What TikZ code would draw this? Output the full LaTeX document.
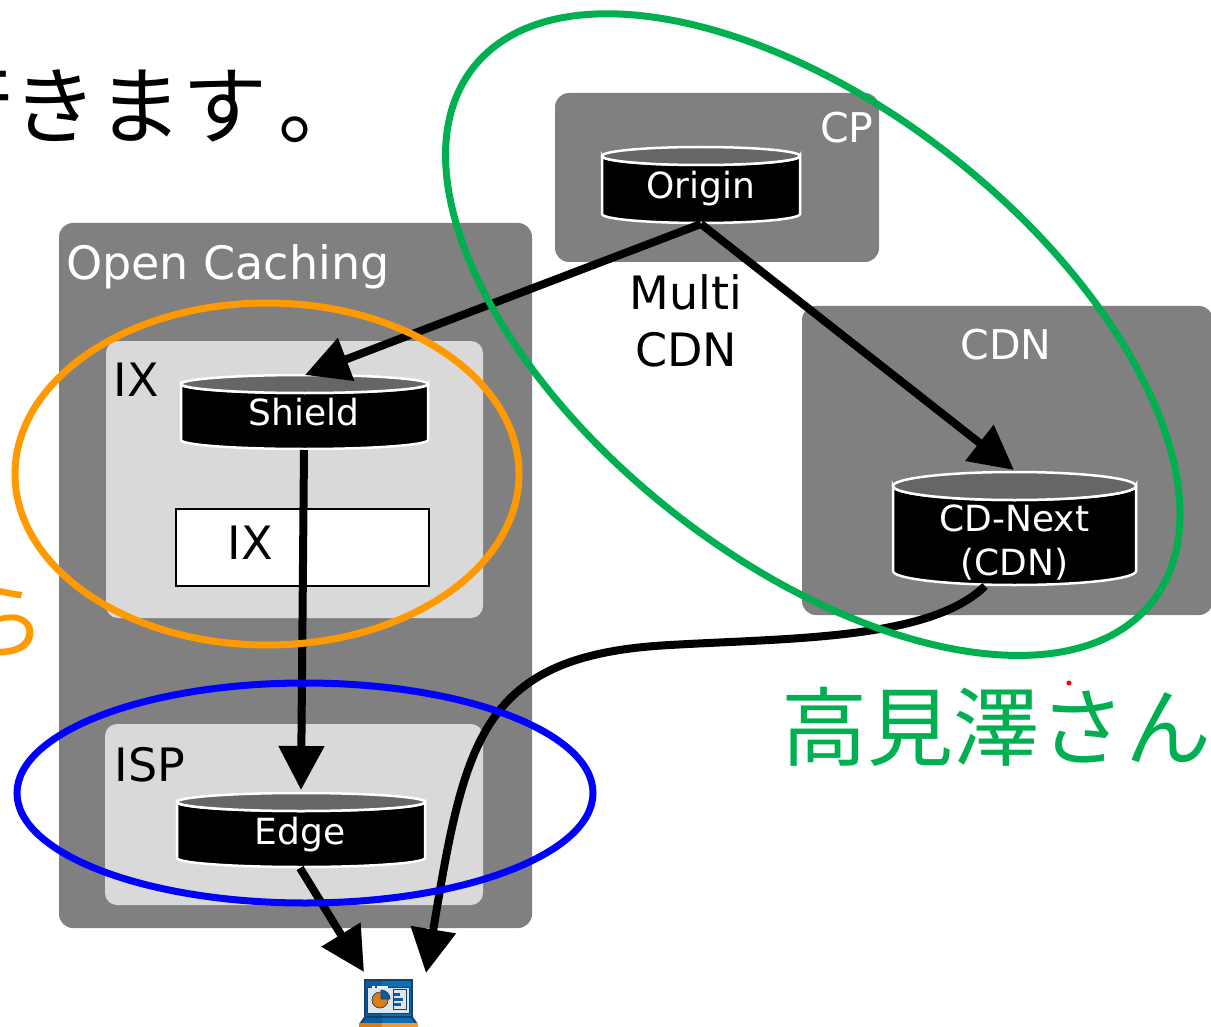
\documentclass[tikz,border=0pt]{standalone}
\usepackage{fontspec}
\setmainfont{DejaVu Sans}
\newfontfamily\cjkfont{Noto Sans CJK JP}
\usetikzlibrary{arrows.meta}
\definecolor{boxgray}{HTML}{808080}
\definecolor{boxlight}{HTML}{D9D9D9}
\definecolor{ringorange}{HTML}{FF9900}
\definecolor{ringgreen}{HTML}{00B050}
\definecolor{lidgray}{HTML}{666666}
\definecolor{frame}{HTML}{1C3F66}
\definecolor{screenblue}{HTML}{0A6FB5}
\definecolor{paneblue}{HTML}{0B5CA0}
\definecolor{panel}{HTML}{DDE6EE}
\definecolor{pieorange}{HTML}{E07B10}
\definecolor{baseorange}{HTML}{F39A32}
\tikzset{
  x=1pt,y=-1pt,
  graybox/.style={fill=boxgray,rounded corners=14pt},
  lightbox/.style={fill=boxlight,rounded corners=12pt},
  storetext/.style={text=white,inner sep=0pt,font=\fontsize{36}{44}\selectfont,align=center},
  flow/.style={line width=8pt,draw=black,-{Triangle[length=44pt,width=44pt]}},
  ring/.style={line width=7pt,fill=none},
  lbl/.style={inner sep=0pt,font=\fontsize{46}{57}\selectfont,align=center},
  wlbl/.style={inner sep=0pt,text=white,font=\fontsize{41}{50}\selectfont},
  jp/.style={inner sep=0pt,font=\cjkfont\fontsize{85}{85}\selectfont}
}
% name, left, top, right, bottom, lid half-height
\newcommand{\storeshape}[6]{%
  \draw[white,line width=2.5pt,fill=black] (#2,#3+#6) arc[start angle=180,end angle=0,x radius={(#4-#2)/2},y radius=#6]
    -- (#4,#5-#6) arc[start angle=0,end angle=180,x radius={(#4-#2)/2},y radius=#6] -- cycle;
  \draw[white,line width=2.5pt,fill=lidgray] ({(#2+#4)/2},#3+#6) ellipse [x radius={(#4-#2)/2},y radius=#6];
  \coordinate (#1) at ({(#2+#4)/2},{(#3+#5)/2});
}
\begin{document}
\begin{tikzpicture}
\useasboundingbox (0,0) rectangle (1211,1027);
\clip (0,0) rectangle (1211,1027);
% clipped slide text
\node[jp,anchor=east] (head) at (364,105) {行きます\kern11pt 。};
\node[jp,anchor=east,text=ringorange] (ora) at (47,622) {ら};
% panels
\fill[graybox] (59,223) rectangle (532,928);
\fill[lightbox] (106,341) rectangle (483,618);
\fill[lightbox] (105,724) rectangle (483,905);
\fill[graybox] (555,93) rectangle (879,262);
\fill[graybox] (802,306) rectangle (1213,615);
\node[lbl,anchor=west,text=white] (oc) at (66,267) {Open Caching};
\node[lbl] (ixl) at (136,380) {IX};
\node[lbl] (ispl) at (150,765) {ISP};
\node[wlbl] (cpl) at (847,128) {CP};
\node[wlbl] (cdnl) at (1006,345) {CDN};
\node[lbl] (multi) at (686,321) {Multi\\CDN};
\node[draw=black,fill=white,line width=2pt,minimum width=253pt,minimum height=77pt,inner sep=0pt] (ixbox) at (302.5,547.5) {};
\node[lbl] (ixt) at (250,543) {IX};
% stores
\storeshape{origin}{602}{147}{800}{223}{9}
\storeshape{shield}{181}{375}{428}{449}{9}
\storeshape{edge}{177}{793}{425}{867}{9}
\storeshape{cdnext}{893}{472}{1136}{585}{14}
\node[storetext] (origint) at (701,189) {Origin};
\node[storetext] (shieldt) at (304,412) {Shield};
\node[storetext] (edget) at (300,835) {Edge};
\node[storetext] (cdnextt) at (1014.5,543) {CD-Next\\(CDN)};
% free ends
\coordinate (pcA) at (364,972);
\coordinate (pcB) at (426,973);
\coordinate (oBot) at (701,224);
\coordinate (sTop) at (305,375);
\coordinate (cTop) at (1014,470);
\coordinate (sBot) at (304,450);
\coordinate (eTop) at (301,790);
\coordinate (eBot) at (300,868);
\coordinate (cBot) at (985,586);
% arrows
\draw[flow] (oBot) -- (sTop);
\draw[flow] (oBot) -- (cTop);
\draw[flow] (sBot) -- (eTop);
\draw[flow] (eBot) -- (pcA);
\draw[flow] (cBot) .. controls (930,640) and (790,638) .. (670,645) .. controls (480,655) and (465,740) .. (pcB);
% rings
\draw[ring,draw=ringorange] (267,474) ellipse [x radius=252,y radius=171];
\draw[ring,draw=ringgreen,rotate around={-38.2:(812,334)}] (813,334) ellipse [x radius=432,y radius=226];
\draw[ring,draw=blue] (305,793) ellipse [x radius=288,y radius=110];
\fill[red] (1069,683) circle (2.5);
\node[inner sep=0pt,anchor=west,text=ringgreen,font=\cjkfont\fontsize{86}{86}\selectfont] (name) at (781,727) {高見澤さん};
% laptop icon
\fill[frame] (364,979) rectangle (413,1018);
\fill[screenblue] (366,981) rectangle (411,1016);
\fill[paneblue] (366,981) rectangle (382,1016);
\fill[frame] (367,987) rectangle (410,1014);
\fill[panel] (368,988) rectangle (409,1013);
\fill[pieorange,draw=frame,line width=.7pt] (380,1000) circle (8);
\fill[paneblue,draw=frame,line width=.7pt] (381,999) -- (381,990) arc[start angle=-90,end angle=0,radius=9] -- cycle;
\fill[panel,draw=frame,line width=.8pt] (393,989) rectangle (406,1009);
\fill[paneblue] (394,993) rectangle (400,996);
\fill[paneblue] (394,998) rectangle (403,1001);
\fill[paneblue] (394,1003) rectangle (401,1006);
\fill[white] (372,986) rectangle (375,987.5);
\fill[white] (377,986) rectangle (388,987.5);
\fill[frame] (364,1017) -- (413,1017) -- (418,1024) -- (359,1024) -- cycle;
\fill[screenblue] (366,1018) -- (411,1018) -- (415,1023) -- (362,1023) -- cycle;
\fill[paneblue] (366,1018) -- (382,1018) -- (382,1023) -- (362,1023) -- cycle;
\fill[baseorange] (359,1023) rectangle (418,1027);
\fill[pieorange] (359,1023) rectangle (382,1027);
\end{tikzpicture}
\end{document}
